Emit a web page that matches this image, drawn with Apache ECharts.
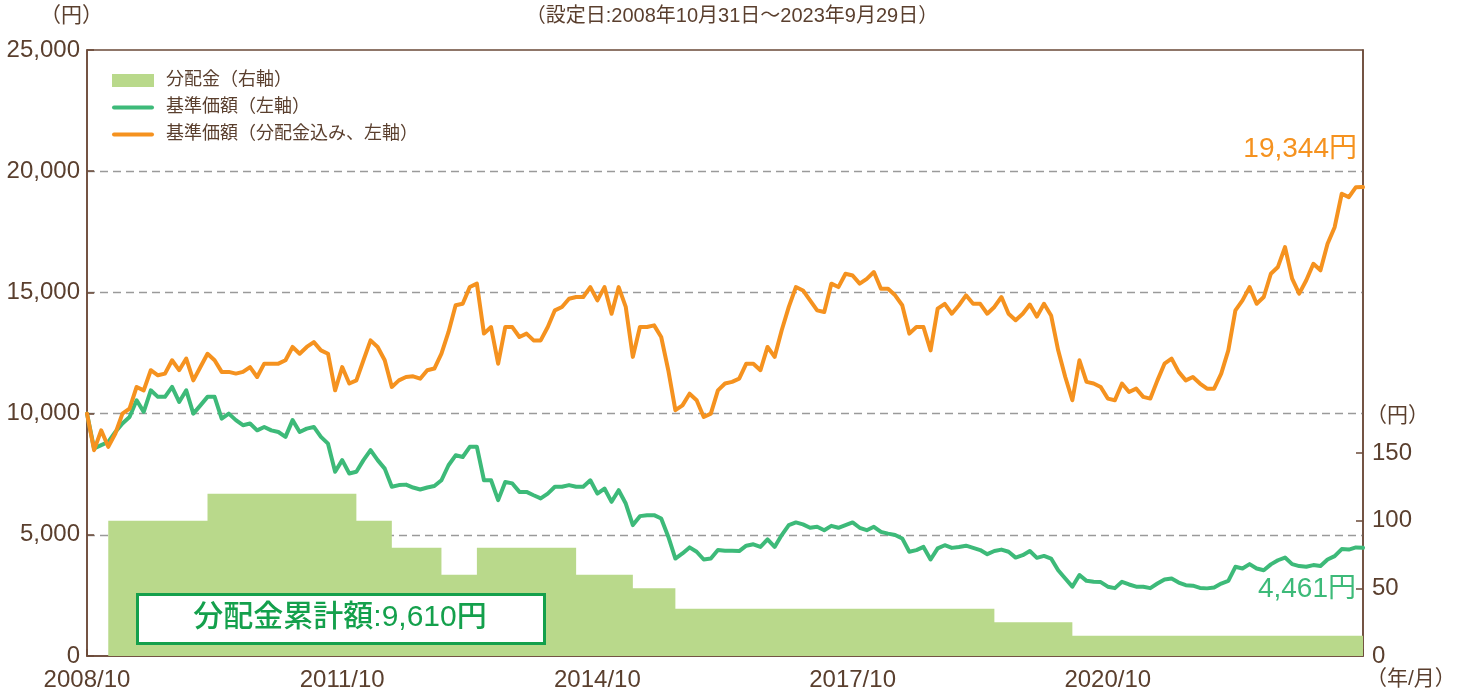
<!DOCTYPE html>
<html>
<head>
<meta charset="utf-8">
<script src="https://cdn.jsdelivr.net/npm/echarts@6/dist/echarts.min.js"></script>
<style>
  html, body { margin: 0; padding: 0; background: #fff; }
  #chart { width: 1464px; height: 697px; }
</style>
</head>
<body>
<div id="chart"></div>
<script>
// month index 0 = 2008/10, 180 = 2023/10 (end of data 2023/9/29)
const tickLabels = ['2008/10', '2011/10', '2014/10', '2017/10', '2020/10']

// 基準価額（分配金込み） month-end readings, yen
const navWithDiv = [
  10000, 8490, 9310, 8630, 9180, 10000, 10210, 11100, 10960, 11790,
  11580, 11650, 12200, 11790, 12270, 11370, 11920, 12470, 12200, 11720,
  11720, 11650, 11720, 11920, 11510, 12060, 12060, 12060, 12200, 12750,
  12470, 12750, 12950, 12610, 12470, 10960, 11920, 11240, 11370, 12200,
  13020, 12750, 12200, 11100, 11370, 11510, 11540, 11440, 11790, 11860,
  12470, 13370, 14470, 14530, 15220, 15360, 13300, 13570, 12060, 13570,
  13570, 13160, 13300, 13020, 13020, 13570, 14260, 14400, 14740, 14810,
  14810, 15220, 14670, 15220, 14120, 15220, 14400, 12340, 13570, 13570,
  13640, 13160, 11790, 10140, 10340, 10820, 10550, 9860, 10000, 10960,
  11240, 11310, 11440, 12060, 12060, 11790, 12750, 12340, 13440, 14400,
  15220, 15080, 14670, 14260, 14190, 15360, 15220, 15770, 15700, 15360,
  15560, 15840, 15150, 15150, 14880, 14470, 13300, 13570, 13570, 12610,
  14330, 14530, 14120, 14470, 14880, 14530, 14530, 14120, 14400, 14810,
  14120, 13850, 14120, 14500, 14000, 14530, 14050, 12610, 11510, 10550,
  12200, 11310, 11240, 11100, 10620, 10550, 11240, 10890, 11030, 10690,
  10620, 11370, 12060, 12270, 11720, 11370, 11510, 11240, 11030, 11030,
  11650, 12610, 14260, 14670, 15220, 14530, 14810, 15770, 16050, 16870,
  15570, 14950, 15500, 16180, 15910, 17010, 17690, 19070, 18930, 19340,
  19344
]

// 基準価額 month-end readings, yen
const nav = [
  10000, 8560, 8700, 8830, 9240, 9590, 9860, 10550, 10070, 10960,
  10690, 10690, 11100, 10480, 10960, 10000, 10340, 10690, 10690, 9790,
  10000, 9730, 9520, 9590, 9310, 9450, 9310, 9240, 9040, 9730,
  9240, 9380, 9450, 9040, 8760, 7600, 8080, 7530, 7600, 8080,
  8490, 8080, 7730, 6980, 7050, 7070, 6950, 6870, 6950, 7010,
  7250, 7870, 8280, 8210, 8630, 8630, 7250, 7250, 6430, 7180,
  7120, 6770, 6770, 6630, 6500, 6700, 6980, 6980, 7050, 6980,
  6980, 7250, 6700, 6910, 6360, 6840, 6290, 5400, 5770, 5810,
  5810, 5670, 4920, 4020, 4230, 4480, 4300, 3980, 4020, 4370,
  4340, 4340, 4330, 4550, 4610, 4500, 4810, 4500, 4990, 5400,
  5510, 5430, 5290, 5330, 5190, 5370, 5290, 5400, 5510, 5290,
  5190, 5330, 5120, 5050, 4990, 4850, 4300, 4370, 4500, 3980,
  4440, 4570, 4460, 4500, 4550, 4460, 4370, 4200, 4330, 4390,
  4300, 4060, 4160, 4330, 4050, 4130, 4020, 3540, 3200, 2860,
  3340, 3100, 3060, 3050, 2860, 2800, 3060, 2950, 2860, 2860,
  2800, 2990, 3160, 3200, 3030, 2920, 2900, 2810, 2790, 2830,
  2990, 3100, 3680, 3610, 3790, 3610, 3540, 3780, 3950, 4060,
  3790, 3710, 3680, 3750, 3710, 3980, 4120, 4410, 4390, 4480,
  4461
]

// 分配金 per month (right axis), yen
const distribution = [
  0, 0, 0, 100, 100, 100, 100, 100, 100, 100, 100, 100, 100, 100, 100, 100, 100,
  120, 120, 120, 120, 120, 120, 120, 120, 120, 120, 120, 120, 120, 120, 120, 120, 120, 120, 120, 120, 120,
  100, 100, 100, 100, 100,
  80, 80, 80, 80, 80, 80, 80,
  60, 60, 60, 60, 60,
  80, 80, 80, 80, 80, 80, 80, 80, 80, 80, 80, 80, 80, 80,
  60, 60, 60, 60, 60, 60, 60, 60,
  50, 50, 50, 50, 50, 50,
  35, 35, 35, 35, 35, 35, 35, 35, 35, 35, 35, 35, 35, 35, 35,
  35, 35, 35, 35, 35, 35, 35, 35, 35, 35, 35, 35, 35, 35, 35,
  35, 35, 35, 35, 35, 35, 35, 35, 35, 35, 35, 35, 35, 35, 35,
  25, 25, 25, 25, 25, 25, 25, 25, 25, 25, 25,
  15, 15, 15, 15, 15, 15, 15, 15, 15, 15, 15, 15, 15, 15, 15, 15, 15, 15, 15, 15,
  15, 15, 15, 15, 15, 15, 15, 15, 15, 15, 15, 15, 15, 15, 15, 15, 15, 15, 15, 15, 15
]

const FONT = "'Liberation Sans', 'Noto Sans CJK JP', sans-serif"
const BROWN = '#5a3f2e'
const AXIS = '#6b4a38'
const ORANGE = '#f5921f'
const GREEN = '#3dba79'
const BAR = '#b9d98b'
const BOX_GREEN = '#14a04c'
// thin rounded bar used as the legend mark of the two lines
const LINE_ICON = 'path://M0,0 M2,4.5 L40,4.5 A2,2 0 0 1 40,8.5 L2,8.5 A2,2 0 0 1 2,4.5 Z M42,13'

const chart = echarts.init(document.getElementById('chart'))

const distData = distribution.map((v, i) => [i, v])
distData.push([distribution.length, distribution[distribution.length - 1]])

function monthLabel(v) {
  const idx = Math.round(v / 36)
  if (v % 36 !== 0 || idx >= tickLabels.length) return ''
  return tickLabels[idx]
}

const option = {
  animation: false,
  textStyle: { fontFamily: FONT },
  grid: {
    left: 87, right: 101, top: 50, bottom: 41,
    show: true, borderColor: AXIS, borderWidth: 1.5, backgroundColor: 'transparent'
  },
  legend: {
    orient: 'vertical',
    left: 107,
    top: 66,
    itemWidth: 42,
    itemHeight: 13,
    itemGap: 8,
    textStyle: { fontFamily: FONT, fontSize: 18, color: BROWN, padding: [0, 0, 0, 7], lineHeight: 19 },
    data: [
      { name: '分配金（右軸）', icon: 'rect' },
      { name: '基準価額（左軸）', icon: LINE_ICON },
      { name: '基準価額（分配金込み、左軸）', icon: LINE_ICON }
    ]
  },
  xAxis: {
    type: 'value',
    min: 0,
    max: 180,
    interval: 36,
    axisLine: { show: true, lineStyle: { color: AXIS, width: 1.5 } },
    axisTick: { show: true, inside: true, length: 7, lineStyle: { color: AXIS, width: 1.5 } },
    splitLine: { show: false },
    axisLabel: {
      margin: 12, fontSize: 24, color: BROWN, fontFamily: FONT,
      formatter: monthLabel
    }
  },
  yAxis: [
    {
      type: 'value',
      min: 0,
      max: 25000,
      interval: 5000,
      axisLine: { show: true, lineStyle: { color: AXIS, width: 1.5 } },
      axisTick: { show: true, inside: true, length: 7, lineStyle: { color: AXIS, width: 1.5 } },
      splitLine: {
        show: true, showMinLine: false, showMaxLine: false,
        lineStyle: { color: '#9a9a9a', type: [8, 5], width: 1.3 }
      },
      axisLabel: {
        margin: 7, fontSize: 24, color: BROWN, fontFamily: FONT,
        formatter: v => v.toLocaleString('en-US')
      }
    },
    {
      type: 'value',
      position: 'right',
      min: 0,
      max: 448,
      interval: 50,
      axisLine: { show: true, lineStyle: { color: AXIS, width: 1.5 } },
      axisTick: { show: true, inside: true, length: 7, lineStyle: { color: AXIS, width: 1.5 }, customValues: [50, 100, 150] },
      splitLine: { show: false },
      axisLabel: {
        margin: 9, fontSize: 24, color: BROWN, fontFamily: FONT,
        customValues: [0, 50, 100, 150],
        formatter: v => (v <= 150 ? String(v) : '')
      }
    }
  ],
  series: [
    {
      name: '分配金（右軸）',
      type: 'line',
      yAxisIndex: 1,
      step: 'end',
      symbol: 'none',
      color: BAR,
      lineStyle: { width: 0, color: BAR },
      areaStyle: { color: BAR, opacity: 1 },
      data: distData,
      z: 1
    },
    {
      name: '基準価額（左軸）',
      type: 'line',
      symbol: 'none',
      color: GREEN,
      lineStyle: { width: 4, color: GREEN, cap: 'round', join: 'round' },
      data: nav.map((v, i) => [i, v]),
      z: 3
    },
    {
      name: '基準価額（分配金込み、左軸）',
      type: 'line',
      symbol: 'none',
      color: ORANGE,
      lineStyle: { width: 4, color: ORANGE, cap: 'round', join: 'round' },
      data: navWithDiv.map((v, i) => [i, v]),
      z: 4
    }
  ],
  graphic: [
    { type: 'text', left: 40, top: 6, style: { text: '（円）', font: '21px ' + FONT, fill: BROWN } },
    { type: 'text', left: 'center', top: 6, style: { text: '（設定日:2008年10月31日〜2023年9月29日）', font: '20px ' + FONT, fill: BROWN } },
    { type: 'text', left: 1366, top: 406, style: { text: '（円）', font: '21px ' + FONT, fill: BROWN } },
    { type: 'text', left: 1366, top: 669, style: { text: '（年/月）', font: '21px ' + FONT, fill: BROWN } },
    { type: 'text', right: 107, top: 135, style: { text: '19,344円', font: '28px ' + FONT, fill: ORANGE } },
    { type: 'text', right: 108, top: 575, style: { text: '4,461円', font: '28px ' + FONT, fill: GREEN } },
    {
      type: 'rect', left: 136, top: 593, z: 10,
      shape: { width: 407, height: 49 },
      style: { fill: '#fff', stroke: BOX_GREEN, lineWidth: 3 }
    },
    {
      type: 'text', x: 340, y: 618, z: 11,
      style: { text: '分配金累計額:9,610円', font: '500 30px ' + FONT, fill: BOX_GREEN, textAlign: 'center', textVerticalAlign: 'middle' }
    }
  ]
}

chart.setOption(option)
</script>
</body>
</html>
